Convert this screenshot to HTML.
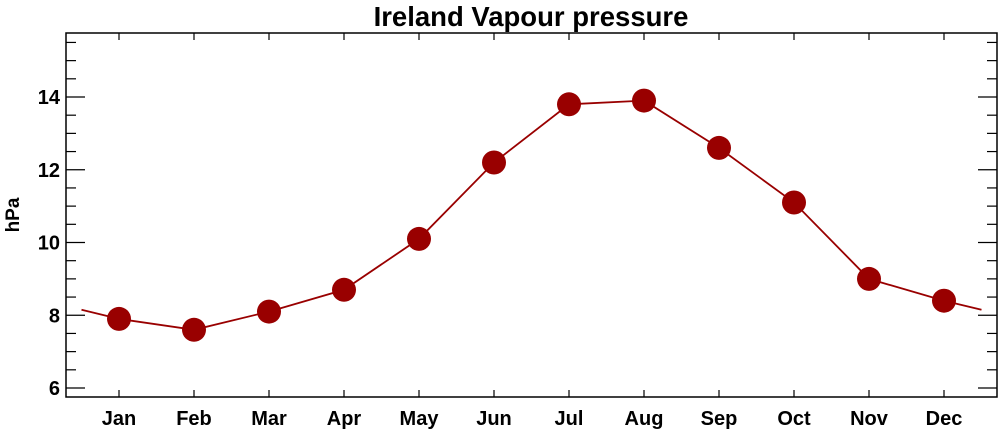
<!DOCTYPE html>
<html><head><meta charset="utf-8"><style>
html,body{margin:0;padding:0;background:#fff;}
svg{display:block;font-family:"Liberation Sans",Arial,sans-serif;font-weight:bold;}
</style></head><body>
<svg id="s" width="1000" height="432" viewBox="0 0 1000 432">
<text x="531" y="26" font-size="27.5" text-anchor="middle">Ireland Vapour pressure</text>
<text transform="translate(19,215) rotate(-90)" font-size="19" text-anchor="middle">hPa</text>
<rect x="66" y="33" width="931" height="364" fill="none" stroke="#000" stroke-width="1.5"/>
<g id="ticks" stroke="#000" stroke-width="1.2"></g>
<g id="labels" font-size="20"></g>
<polyline fill="none" stroke="#990000" stroke-width="1.8" points="81.5,309.8 119,318.9 194,329.8 269,311.6 344,289.8 419,238.9 494,162.5 569,104.3 644,100.6 719,147.9 794,202.5 869,278.9 944,300.7 981.5,309.8"/>
<g fill="#990000">
<circle cx="119" cy="318.9" r="12"/><circle cx="194" cy="329.8" r="12"/><circle cx="269" cy="311.6" r="12"/><circle cx="344" cy="289.8" r="12"/><circle cx="419" cy="238.9" r="12"/><circle cx="494" cy="162.5" r="12"/><circle cx="569" cy="104.3" r="12"/><circle cx="644" cy="100.6" r="12"/><circle cx="719" cy="147.9" r="12"/><circle cx="794" cy="202.5" r="12"/><circle cx="869" cy="278.9" r="12"/><circle cx="944" cy="300.7" r="12"/>
</g>
</svg>
<script>
var NS="http://www.w3.org/2000/svg",t=document.getElementById("ticks"),l=document.getElementById("labels");
function ln(x1,y1,x2,y2){var e=document.createElementNS(NS,"line");e.setAttribute("x1",x1);e.setAttribute("y1",y1);e.setAttribute("x2",x2);e.setAttribute("y2",y2);t.appendChild(e);}
function tx(x,y,s,a){var e=document.createElementNS(NS,"text");e.setAttribute("x",x);e.setAttribute("y",y);e.setAttribute("text-anchor",a);e.textContent=s;l.appendChild(e);}
for(var i=0;i<=19;i++){var v=6+i*0.5;var y=388-(v-6)*36.375;if(y<34)break;var maj=(i%4==0);var L=maj?19:10;ln(66,y,66+L,y);ln(997,y,997-L,y);if(maj)tx(60,y+7,String(v),"end");}
var m=["Jan","Feb","Mar","Apr","May","Jun","Jul","Aug","Sep","Oct","Nov","Dec"];
for(var k=0;k<12;k++){var x=119+75*k;ln(x,397,x,390);ln(x,33,x,40);tx(x,425,m[k],"middle");}
</script>
</body></html>
